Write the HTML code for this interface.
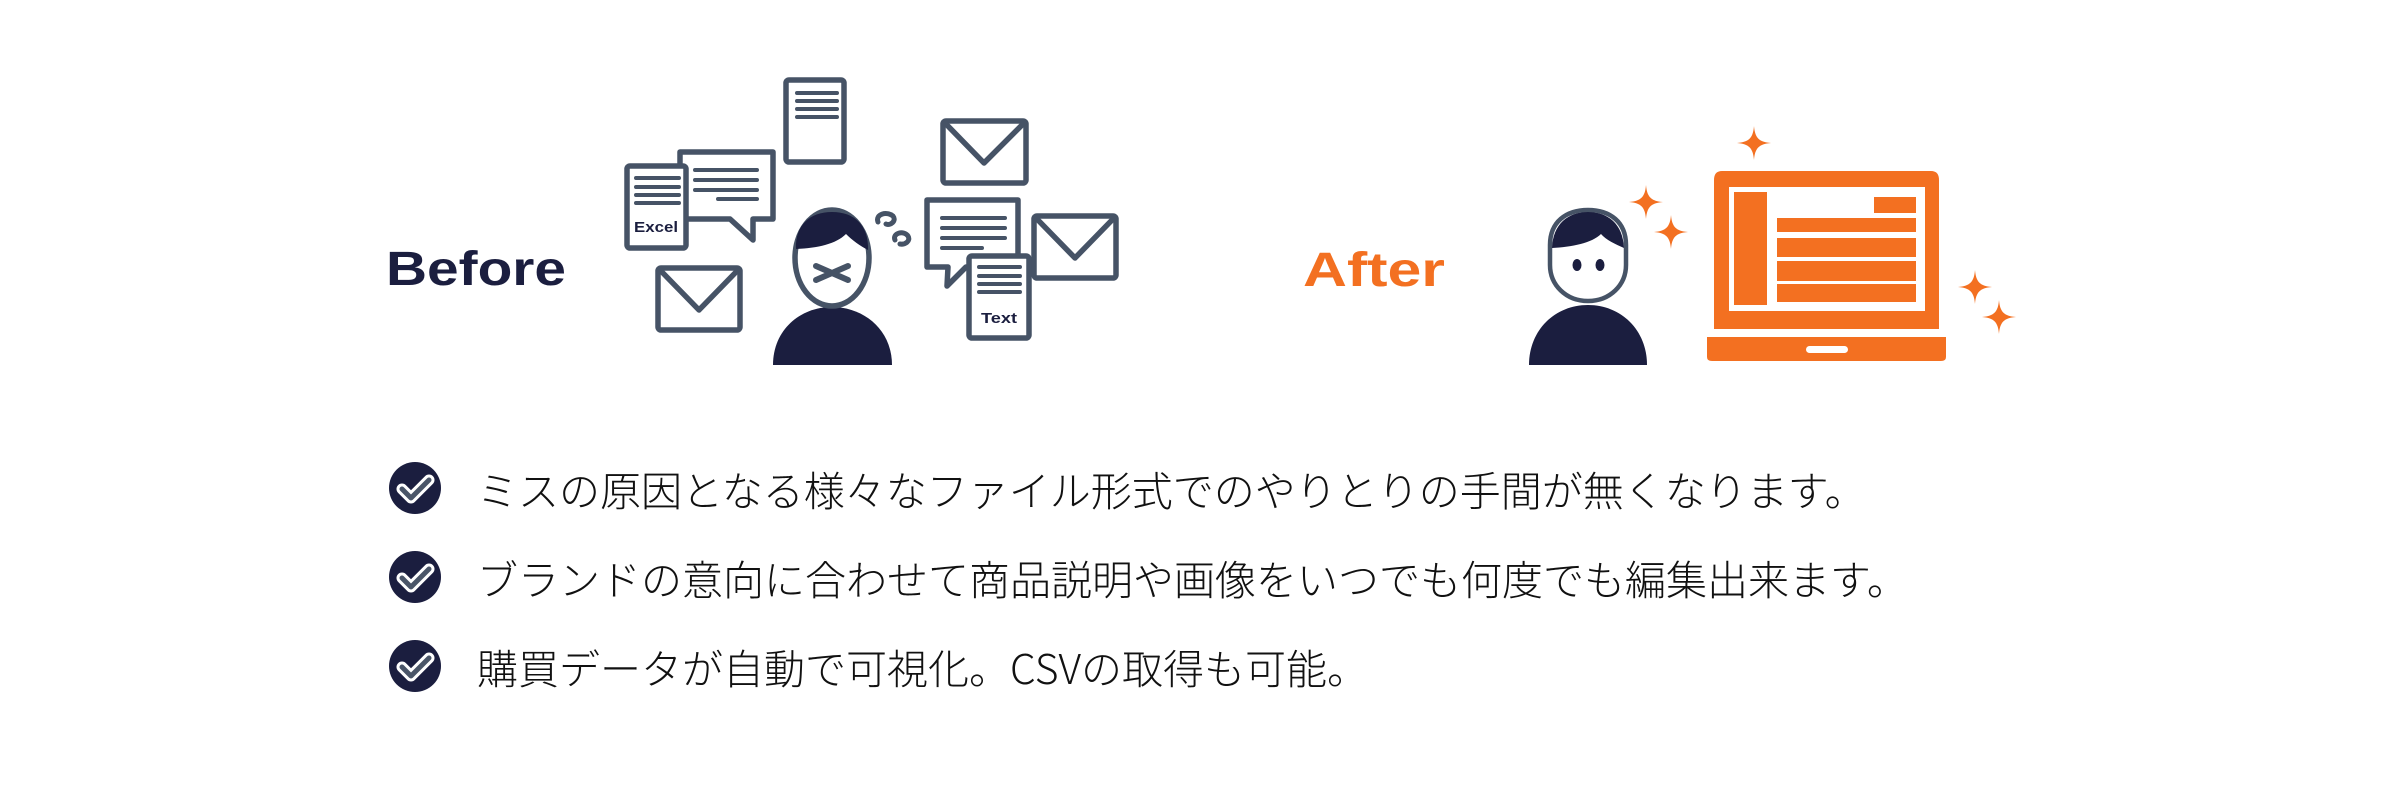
<!DOCTYPE html>
<html><head><meta charset="utf-8"><style>
html,body{margin:0;padding:0;background:#fff;}
body{width:2401px;height:809px;overflow:hidden;position:relative;}
svg{position:absolute;left:0;top:0;}
.t{position:absolute;left:477px;font-family:"Noto Sans CJK JP","Liberation Sans",sans-serif;font-size:41px;color:#111;white-space:nowrap;line-height:40px;font-weight:300;}
</style></head><body>
<svg width="2401" height="809" viewBox="0 0 2401 809" xmlns="http://www.w3.org/2000/svg">
<g font-family="Liberation Sans, sans-serif" font-weight="bold">
<text x="386" y="285" font-size="48" fill="#1b1e3f" textLength="180" lengthAdjust="spacingAndGlyphs">Before</text>
<text x="1303" y="286" font-size="48" fill="#f37021" textLength="142" lengthAdjust="spacingAndGlyphs">After</text>
</g>
<g fill="#fff" stroke="#465366" stroke-width="5.5" stroke-linejoin="round" stroke-linecap="round">
<rect x="786" y="80" width="58" height="82" rx="3"/>
<path d="M680 152 H773 V219 H753 L753 240 L730 219 H680 Z"/>
<rect x="627" y="166" width="59" height="82" rx="3"/>
<rect x="658" y="268" width="82" height="62" rx="3"/>
<path d="M660 270 L699 310 L738 270" fill="none"/>
<rect x="943" y="121" width="83" height="62" rx="3"/>
<path d="M945 123 L984 163 L1024 123" fill="none"/>
<path d="M927 200 H1018 V267 H966 L947 286 L948 267 H927 Z"/>
<rect x="1034" y="216" width="82" height="62" rx="3"/>
<path d="M1036 218 L1075 258 L1114 218" fill="none"/>
<rect x="969" y="256" width="60" height="82" rx="3"/>
</g>
<g stroke="#465366" stroke-width="4" stroke-linecap="round">
<path d="M797 93H837M797 101H837M797 109H837M797 117H837"/>
<path d="M695 170H757M695 180H757M695 190H757M718 199H757"/>
<path d="M636 178H679M636 187H679M636 195H679M636 203H679"/>
<path d="M942 218H1005M942 228H1005M942 238H1005M942 248H982"/>
<path d="M979 267H1020M979 276H1020M979 284H1020M979 292H1020"/>
</g>
<g font-family="Liberation Sans, sans-serif" font-weight="bold" fill="#1b1e3f" font-size="15">
<text x="634" y="232" textLength="44" lengthAdjust="spacingAndGlyphs">Excel</text>
<text x="981" y="323" textLength="36" lengthAdjust="spacingAndGlyphs">Text</text>
</g>
<path d="M773 365 C773 330 800 307 832 307 C864 307 892 330 892 365 Z" fill="#1b1e3f"/>
<ellipse cx="832" cy="258" rx="37" ry="48" fill="#fff" stroke="#465366" stroke-width="5.5"/>
<path d="M796 249 C795 225 810 212 832 212 C854 212 869 225 868 250 C860 246 852 240 846 234 C836 244 818 248 796 249 Z" fill="#1b1e3f"/>
<path d="M816 266 L848 280 M816 280 L848 266" stroke="#465366" stroke-width="6" stroke-linecap="round"/>
<path d="M878 222 C875 214 887 211 893 216 C897 221 890 226 886 224 M895 240 C892 233 904 230 908 236 C911 241 905 245 900 244" fill="none" stroke="#465366" stroke-width="5" stroke-linecap="round"/>
<path d="M1529 365 C1529 330 1555 305 1588 305 C1621 305 1647 330 1647 365 Z" fill="#1b1e3f"/>
<path d="M1550 245 C1550 222 1566 210 1588 210 C1610 210 1626 222 1626 245 L1626 265 C1626 285 1610 301 1588 301 C1566 301 1550 285 1550 265 Z" fill="#fff" stroke="#465366" stroke-width="4.5"/>
<path d="M1552 248 C1553 224 1568 212 1588 212 C1608 212 1623 224 1624 248 C1615 244 1606 240 1601 234 C1592 243 1572 247 1552 248 Z" fill="#1b1e3f"/>
<ellipse cx="1577" cy="265" rx="4.5" ry="6" fill="#1b1e3f"/>
<ellipse cx="1600" cy="265" rx="4.5" ry="6" fill="#1b1e3f"/>
<g fill="#f37021">
<path d="M1722 171 H1931 Q1939 171 1939 180 V329 H1714 V180 Q1714 171 1722 171 Z"/>
<rect x="1729" y="187" width="196" height="124" fill="#fff"/>
<rect x="1734" y="192" width="33" height="113"/>
<rect x="1874" y="197" width="42" height="16"/>
<rect x="1777" y="218" width="139" height="14"/>
<rect x="1777" y="238" width="139" height="19"/>
<rect x="1777" y="261" width="139" height="20"/>
<rect x="1777" y="284" width="139" height="18"/>
<path d="M1707 337 H1946 V357 Q1946 361 1941 361 H1712 Q1707 361 1707 357 Z"/>
<rect x="1806" y="346" width="42" height="7" rx="3.5" fill="#fff"/>
</g>
<g fill="#f37021">
<path d="M0 -17 C1 -5 5 -1 17 0 C5 1 1 5 0 17 C-1 5 -5 1 -17 0 C-5 -1 -1 -5 0 -17 Z" transform="translate(1754 143)"/>
<path d="M0 -17 C1 -5 5 -1 17 0 C5 1 1 5 0 17 C-1 5 -5 1 -17 0 C-5 -1 -1 -5 0 -17 Z" transform="translate(1646 202)"/>
<path d="M0 -17 C1 -5 5 -1 17 0 C5 1 1 5 0 17 C-1 5 -5 1 -17 0 C-5 -1 -1 -5 0 -17 Z" transform="translate(1671 232)"/>
<path d="M0 -17 C1 -5 5 -1 17 0 C5 1 1 5 0 17 C-1 5 -5 1 -17 0 C-5 -1 -1 -5 0 -17 Z" transform="translate(1975 287)"/>
<path d="M0 -17 C1 -5 5 -1 17 0 C5 1 1 5 0 17 C-1 5 -5 1 -17 0 C-5 -1 -1 -5 0 -17 Z" transform="translate(1999 317)"/>
</g>
<g>
<circle cx="415" cy="488" r="26" fill="#1b1e3f"/>
<circle cx="415" cy="577" r="26" fill="#1b1e3f"/>
<circle cx="415" cy="666" r="26" fill="#1b1e3f"/>
<g fill="none" stroke-linecap="round" stroke-linejoin="round">
<path d="M402 489 L411 498 L429 480 M402 578 L411 587 L429 569 M402 667 L411 676 L429 658" stroke="#fff" stroke-width="11"/>
<path d="M402 489 L411 498 L429 480 M402 578 L411 587 L429 569 M402 667 L411 676 L429 658" stroke="#4a5568" stroke-width="5"/>
</g>
</g>
</svg>
<div class="t" style="top:468px;">ミスの原因となる様々なファイル形式でのやりとりの手間が無くなります。</div>
<div class="t" style="top:557px;">ブランドの意向に合わせて商品説明や画像をいつでも何度でも編集出来ます。</div>
<div class="t" style="top:646px;">購買データが自動で可視化。CSVの取得も可能。</div>
</body></html>
